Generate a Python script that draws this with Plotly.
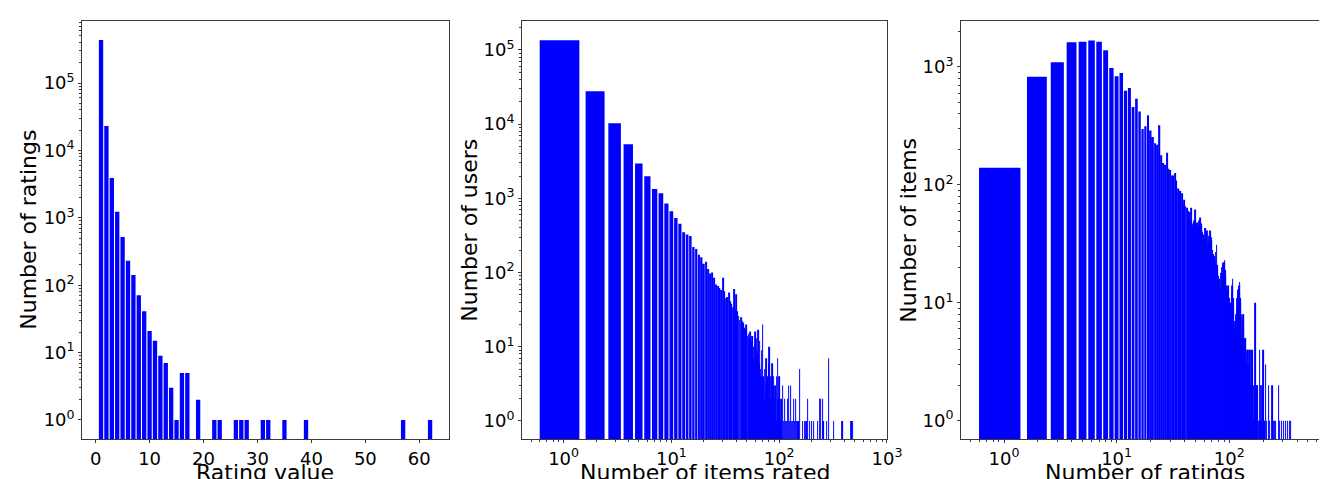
import plotly.graph_objects as go

# ---------------- data ----------------
# Panel 1: distribution of rating values
rating_values = [1, 2, 3, 4, 5, 6, 7, 8, 9, 10, 11, 12, 13, 14, 15, 16, 17, 19,
                 22, 23, 26, 27, 28, 31, 32, 35, 39, 57, 62]
rating_counts = [435000, 23000, 3900, 1230, 520, 230, 142, 71, 41, 21, 15, 9, 7, 3, 1, 5, 5, 2,
                 1, 1, 1, 1, 1, 1, 1, 1, 1, 1, 1]

# Panel 2: number of users vs number of items rated
items_rated = list(range(1, 101)) + [102, 104, 106, 108, 110, 112, 115, 118, 120, 123, 125, 127,
                                     130, 133, 136, 140, 143, 147, 150, 155, 166, 172, 178, 183,
                                     190, 199, 210, 226, 236, 243, 251, 256, 274, 285, 318, 384,
                                     465, 484]
users_count = [135000, 27700, 10300, 5370, 2950, 1990, 1340, 1170, 850, 670,
               545, 456, 350, 325, 310, 221, 208, 174, 161, 131,
               140, 112, 97, 100, 85, 69, 66, 62, 58, 85,
               56, 45, 47, 54, 41, 38, 34, 60, 32, 51,
               30, 26, 23, 25, 22, 21, 18, 17, 20, 16,
               14, 15, 13, 16, 12, 14, 7, 10, 11, 16,
               9, 13, 8, 17, 6, 12, 5, 4, 9, 20,
               4, 3, 5, 2, 3, 7, 4, 3, 2, 6,
               10, 3, 4, 2, 4, 6, 1, 3, 4, 2,
               1, 3, 2, 1, 4, 1, 7, 2, 1, 4,
               1, 2, 1, 3, 1, 2, 1, 1, 2, 3, 1, 3,
               1, 1, 2, 1, 2, 1, 1, 5, 1, 1, 1, 2,
               1, 1, 1, 1, 2, 2, 2, 1, 1, 7, 1, 1,
               1, 1]

# Panel 3: number of items vs number of ratings
ratings_per_item = list(range(1, 141)) + [142, 144, 146, 148, 150, 152, 154, 156, 158, 160, 163,
                                          166, 170, 173, 177, 180, 184, 187, 189, 192, 196, 200,
                                          204, 211, 216, 224, 230, 240, 246, 252, 260, 274, 280,
                                          290, 305, 318, 330, 343, 350]
items_count = [140, 828, 1096, 1620, 1640, 1680, 1640, 1385, 980, 834,
               890, 630, 665, 457, 538, 419, 298, 314, 390, 290,
               255, 226, 219, 320, 178, 153, 148, 187, 137, 134,
               120, 120, 126, 109, 93, 88, 89, 85, 68, 75,
               66, 64, 60, 59, 49, 64, 45, 47, 50, 62,
               46, 48, 44, 50, 53, 47, 45, 40, 38, 35,
               43, 41, 36, 41, 33, 37, 30, 41, 34, 36,
               28, 26, 24, 25, 22, 27, 31, 21, 19, 17,
               16, 15, 13, 12, 18, 20, 22, 21, 22, 22,
               23, 19, 17, 14, 11, 12, 13, 14, 9, 11,
               6, 10, 8, 10, 12, 14, 16, 11, 7, 9,
               6, 5, 7, 6, 8, 9, 11, 12, 10, 13,
               11, 14, 15, 12, 11, 10, 6, 8, 5, 5,
               7, 6, 8, 8, 6, 5, 4, 5, 5, 4,
               3, 4, 4, 3, 4, 4, 4, 2, 4, 4, 1,
               2, 10, 2, 2, 1, 1, 4, 2, 1, 2, 4,
               1, 3, 1, 2, 1, 2, 1, 1, 1, 2, 1,
               1, 1, 1, 1, 1, 1]

x1_ticks = [0, 10, 20, 30, 40, 50, 60]
y1_decades = [0, 1, 2, 3, 4, 5]
x2_decades = [0, 1, 2, 3]
y2_decades = [0, 1, 2, 3, 4, 5]
x3_decades = [0, 1, 2]
y3_decades = [0, 1, 2, 3]

BLUE = "#0000ff"
FONT = "DejaVu Sans"
AXC = "#3a3a3a"
W, H = 1327, 479


def px_x(p):
    return p / W


def px_y(p):
    return (H - p) / H


def dec_labels(decs):
    return [10 ** d for d in decs], ["10<sup>%d</sup>" % d for d in decs]


def minor_vals(dmin, dmax):
    vals = []
    for d in range(dmin, dmax + 1):
        for k in range(2, 10):
            vals.append(k * 10 ** d)
    return vals


bar_marker = dict(color=BLUE, line=dict(width=0))
fig = go.Figure()
fig.add_trace(go.Bar(x=rating_values, y=rating_counts, width=0.8, marker=bar_marker,
                     xaxis="x", yaxis="y", showlegend=False))
fig.add_trace(go.Bar(x=items_rated, y=users_count, width=0.8, marker=bar_marker,
                     xaxis="x2", yaxis="y2", showlegend=False))
fig.add_trace(go.Bar(x=ratings_per_item, y=items_count, width=0.8, marker=bar_marker,
                     xaxis="x3", yaxis="y3", showlegend=False))

ydom = [px_y(431), px_y(13)]
tickfont = dict(family=FONT, size=18, color="black")
common = dict(showgrid=False, zeroline=False, showline=True, linecolor=AXC, linewidth=1,
              ticks="outside", ticklen=3, tickwidth=1, tickcolor=AXC, tickfont=tickfont)

t1v, t1t = dec_labels(y1_decades)
t2xv, t2xt = dec_labels(x2_decades)
t2yv, t2yt = dec_labels(y2_decades)
t3xv, t3xt = dec_labels(x3_decades)
t3yv, t3yt = dec_labels(y3_decades)

minor_common = dict(ticks="outside", ticklen=2, tickwidth=1, tickcolor=AXC, tickmode="array")

fig.update_layout(
    width=W, height=H,
    margin=dict(l=0, r=0, t=0, b=0),
    paper_bgcolor="white", plot_bgcolor="white",
    bargap=0.2,
    xaxis=dict(domain=[px_x(75), px_x(446)], range=[-2.5, 65.5], anchor="y", mirror=True,
               tickmode="array", tickvals=x1_ticks, ticktext=[str(v) for v in x1_ticks], **common),
    yaxis=dict(domain=ydom, type="log", range=[-0.282, 5.92], anchor="x", mirror=True,
               tickmode="array", tickvals=t1v, ticktext=t1t,
               minor=dict(tickvals=minor_vals(0, 5), **minor_common), **common),
    xaxis2=dict(domain=[px_x(520), px_x(889)], type="log", range=[-0.385, 3.0], anchor="y2", mirror=True,
                tickmode="array", tickvals=t2xv, ticktext=t2xt,
                minor=dict(tickvals=minor_vals(-1, 2), **minor_common), **common),
    yaxis2=dict(domain=ydom, type="log", range=[-0.243, 5.39], anchor="x2", mirror=True,
                tickmode="array", tickvals=t2yv, ticktext=t2yt,
                minor=dict(tickvals=minor_vals(0, 5), **minor_common), **common),
    xaxis3=dict(domain=[px_x(964), 1.0], type="log", range=[-0.381, 2.806], anchor="y3", mirror=True,
                tickmode="array", tickvals=t3xv, ticktext=t3xt,
                minor=dict(tickvals=minor_vals(-1, 2), **minor_common), **common),
    yaxis3=dict(domain=ydom, type="log", range=[-0.155, 3.39], anchor="x3", mirror=False,
                tickmode="array", tickvals=t3yv, ticktext=t3yt,
                minor=dict(tickvals=minor_vals(0, 3), **minor_common), **common),
)

titlefont = dict(family=FONT, size=22, color="black")
ann = [
    ("Rating value", px_x(260), px_y(464), 0),
    ("Number of items rated", px_x(705), px_y(464), 0),
    ("Number of ratings", px_x(1150), px_y(464), 0),
    ("Number of ratings", px_x(21), px_y(222), -90),
    ("Number of users", px_x(467), px_y(222), -90),
    ("Number of items", px_x(911), px_y(222), -90),
]
for text, x, y, ang in ann:
    fig.add_annotation(text=text, x=x, y=y, xref="paper", yref="paper", showarrow=False,
                       textangle=ang, font=titlefont, xanchor="center", yanchor="middle")

fig.write_html("out.html")
